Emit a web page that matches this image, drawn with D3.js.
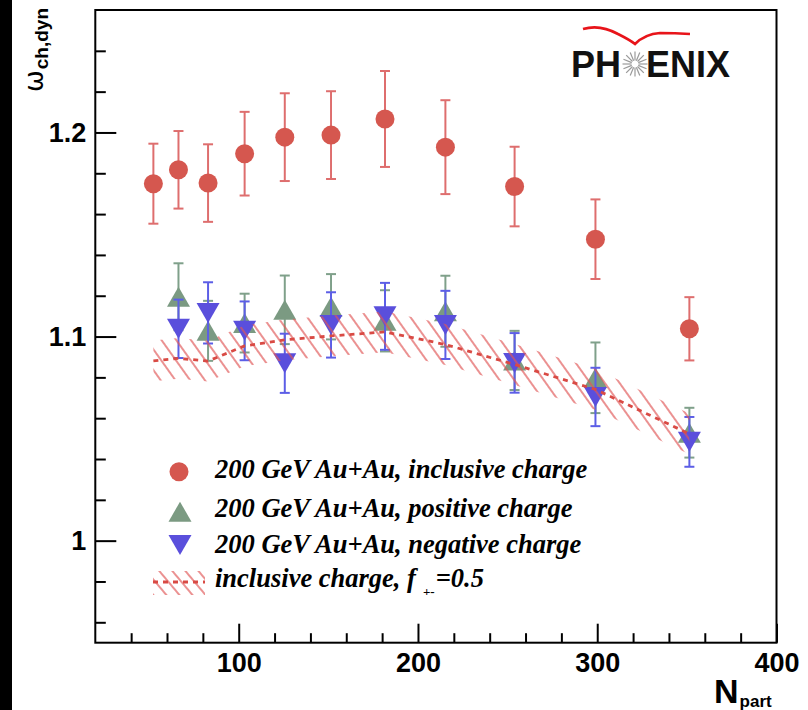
<!DOCTYPE html>
<html><head><meta charset="utf-8">
<script src="https://cdn.jsdelivr.net/npm/d3@7/dist/d3.min.js"></script>
<style>body{margin:0;background:#fff}svg{display:block}</style>
</head><body><svg id="c" width="808" height="710"></svg>
<script>
// ---------------- data ----------------
const npart      = [52.4, 66.4, 82.9, 103.3, 125.7, 151.5, 181.6, 215.3, 253.9, 299.0, 351.4];
const inclusive  = [1.1749, 1.1817, 1.1752, 1.1896, 1.1977, 1.1987, 1.2066, 1.1928, 1.1735, 1.1477, 1.1038];
const inclErr    = [0.0196, 0.0190, 0.0190, 0.0205, 0.0215, 0.0215, 0.0235, 0.0230, 0.0195, 0.0195, 0.0155];
const npartPM    = [66.4, 82.9, 103.3, 125.7, 151.5, 181.6, 215.3, 253.9, 299.0, 351.4];
const positive   = [1.1195, 1.1028, 1.1066, 1.1131, 1.1146, 1.1077, 1.1124, 1.0883, 1.0798, 1.0529];
const posErr     = [0.0164, 0.0147, 0.0144, 0.0168, 0.0160, 0.0150, 0.0174, 0.0145, 0.0173, 0.0122];
const negative   = [1.1038, 1.1116, 1.1028, 1.0869, 1.1057, 1.1099, 1.1057, 1.0871, 1.0704, 1.0484];
const negErr     = [0.0143, 0.0150, 0.0144, 0.0145, 0.0160, 0.0164, 0.0167, 0.0146, 0.0143, 0.0122];
const model      = [1.0881, 1.0893, 1.0880, 1.0954, 1.0984, 1.1003, 1.1023, 1.0961, 1.0863, 1.0741, 1.0523];
const modelErr   = [0.0100, 0.0100, 0.0100, 0.0100, 0.0100, 0.0100, 0.0100, 0.0100, 0.0100, 0.0100, 0.0100];
const xMajor = [100, 200, 300, 400];
const xMinor = [40, 60, 80, 120, 140, 160, 180, 220, 240, 260, 280, 320, 340, 360, 380];
const yMajor = [1.0, 1.1, 1.2];
const yMinor = [0.96, 0.98, 1.02, 1.04, 1.06, 1.08, 1.12, 1.14, 1.16, 1.18, 1.22, 1.24];
const legendLabels = ["200 GeV Au+Au, inclusive charge", "200 GeV Au+Au, positive charge", "200 GeV Au+Au, negative charge"];

// ---------------- setup ----------------
const svg = d3.select('#c');
svg.append('rect').attr('width', 808).attr('height', 710).attr('fill', '#fff');
svg.append('rect').attr('x', 0).attr('y', 0).attr('width', 12).attr('height', 710).attr('fill', '#000');

const x = d3.scaleLinear().domain([20, 400]).range([95.3, 776.5]);
const y = d3.scaleLinear().domain([0.95, 1.26]).range([642.7, 10]);

const RED = '#d5574f', REDBAR = '#de6e6e';
const GREEN = '#7b9a82', GREENBAR = '#7fa08a';
const BLUE = '#5a4fdc', BLUEBAR = '#5c5ee6';
const HATCH = '#e05656';

// hatch pattern
const defs = svg.append('defs');
const pat = defs.append('pattern').attr('id', 'hatch').attr('patternUnits', 'userSpaceOnUse')
  .attr('width', 12).attr('height', 12).attr('patternTransform', 'rotate(-35.5)');
pat.append('line').attr('x1', 6).attr('x2', 6).attr('y1', -1).attr('y2', 13)
  .attr('stroke', HATCH).attr('stroke-width', 1.3);
const pat2 = defs.append('pattern').attr('id', 'hatchL').attr('patternUnits', 'userSpaceOnUse')
  .attr('width', 10).attr('height', 10).attr('patternTransform', 'rotate(-40)');
pat2.append('line').attr('x1', 5).attr('x2', 5).attr('y1', -1).attr('y2', 11)
  .attr('stroke', HATCH).attr('stroke-width', 1.3);

// ---------------- axes ----------------
const font = '"Liberation Sans", Arial, Helvetica, sans-serif';
function styleAxis(g) {
  g.select('.domain').remove();
  g.selectAll('line').attr('stroke', '#000').attr('stroke-width', 2);
  g.selectAll('text').attr('font-family', font).attr('font-weight', 'bold').attr('font-size', 27).attr('fill', '#000');
}
const x0 = y.range()[0];
svg.append('g').attr('transform', `translate(0,${x0})`)
  .call(d3.axisBottom(x).tickValues(xMinor).tickSizeInner(-9.5).tickSizeOuter(0).tickFormat(''))
  .call(styleAxis);
svg.append('g').attr('transform', `translate(0,${x0})`)
  .call(d3.axisBottom(x).tickValues(xMajor).tickSizeInner(-19).tickSizeOuter(0).tickPadding(10).tickFormat(d3.format('d')))
  .call(styleAxis);
svg.append('g').attr('transform', `translate(${x.range()[0]},0)`)
  .call(d3.axisLeft(y).tickValues(yMinor).tickSizeInner(-10.5).tickSizeOuter(0).tickFormat(''))
  .call(styleAxis);
svg.append('g').attr('transform', `translate(${x.range()[0]},0)`)
  .call(d3.axisLeft(y).tickValues(yMajor).tickSizeInner(-21).tickSizeOuter(0).tickPadding(9)
    .tickFormat(d => d === 1 ? '1' : d.toFixed(1)))
  .call(styleAxis);

// frame
svg.append('rect').attr('x', x.range()[0]).attr('y', y.range()[1])
  .attr('width', x.range()[1] - x.range()[0]).attr('height', y.range()[0] - y.range()[1])
  .attr('fill', 'none').attr('stroke', '#000').attr('stroke-width', 2);

// ---------------- series ----------------
function errorBars(g, xs, vs, es, color) {
  const d = xs.map((n, i) => ({ n, v: vs[i], e: es[i] }));
  const eg = g.append('g').attr('stroke', color).attr('stroke-width', 2);
  eg.selectAll('.v').data(d).join('line')
    .attr('x1', p => x(p.n)).attr('x2', p => x(p.n))
    .attr('y1', p => y(p.v - p.e)).attr('y2', p => y(p.v + p.e));
  ['lo', 'hi'].forEach(k => {
    eg.selectAll('.' + k).data(d).join('line').attr('class', k)
      .attr('x1', p => x(p.n) - 5).attr('x2', p => x(p.n) + 5)
      .attr('y1', p => y(k === 'lo' ? p.v - p.e : p.v + p.e))
      .attr('y2', p => y(k === 'lo' ? p.v - p.e : p.v + p.e));
  });
  return d;
}
const upTri = 'M-11.5,10L11.5,10L0,-10Z';
const dnTri = 'M-11.5,-10L11.5,-10L0,10Z';

const gInc = svg.append('g');
const dInc = errorBars(gInc, npart, inclusive, inclErr, REDBAR);
gInc.selectAll('circle').data(dInc).join('circle')
  .attr('cx', p => x(p.n)).attr('cy', p => y(p.v)).attr('r', 9.5).attr('fill', RED);

const gPos = svg.append('g');
const dPos = errorBars(gPos, npartPM, positive, posErr, GREENBAR);
gPos.selectAll('path').data(dPos).join('path')
  .attr('d', upTri).attr('transform', p => `translate(${x(p.n)},${y(p.v)})`).attr('fill', GREEN);

const gNeg = svg.append('g');
const dNeg = errorBars(gNeg, npartPM, negative, negErr, BLUEBAR);
gNeg.selectAll('path').data(dNeg).join('path')
  .attr('d', dnTri).attr('transform', p => `translate(${x(p.n)},${y(p.v)})`).attr('fill', BLUE);

// model band
const dMod = npart.map((n, i) => ({ n, v: model[i], e: modelErr[i] }));
svg.append('path').datum(dMod)
  .attr('d', d3.area().x(p => x(p.n)).y0(p => y(p.v - p.e)).y1(p => y(p.v + p.e)))
  .attr('fill', 'url(#hatch)');
svg.append('path').datum(dMod)
  .attr('d', d3.line().x(p => x(p.n)).y(p => y(p.v)))
  .attr('fill', 'none').attr('stroke', '#d94a44').attr('stroke-width', 2.8).attr('stroke-dasharray', '5,5');

// ---------------- legend ----------------
const lfont = '"Liberation Serif", "Times New Roman", Times, serif';
const lg = svg.append('g');
const rowsY = [478.3, 516.7, 553.3, 586.7];
const markY = [471.7, 511.7, 545.0, 582.0];
lg.append('circle').attr('cx', 179).attr('cy', markY[0]).attr('r', 9.5).attr('fill', RED);
lg.append('path').attr('d', upTri).attr('transform', `translate(180,${markY[1]})`).attr('fill', GREEN);
lg.append('path').attr('d', dnTri).attr('transform', `translate(180,${markY[2]})`).attr('fill', BLUE);
lg.append('rect').attr('x', 153).attr('y', 571).attr('width', 52).attr('height', 24).attr('fill', 'url(#hatchL)');
lg.append('line').attr('x1', 153).attr('x2', 205).attr('y1', markY[3]).attr('y2', markY[3])
  .attr('stroke', '#d94a44').attr('stroke-width', 2.8).attr('stroke-dasharray', '5,5');
legendLabels.forEach((t, i) => {
  lg.append('text').attr('x', 215).attr('y', rowsY[i]).text(t)
    .attr('font-family', lfont).attr('font-weight', 'bold').attr('font-style', 'italic').attr('font-size', 26.5);
});
const t4 = lg.append('text').attr('x', 215).attr('y', rowsY[3])
  .attr('font-family', lfont).attr('font-weight', 'bold').attr('font-style', 'italic').attr('font-size', 26.5);
t4.append('tspan').text('inclusive charge, f');
t4.append('tspan').text('+-').attr('font-size', 13).attr('dx', 7).attr('dy', 9).attr('font-style', 'normal');
t4.append('tspan').text('=0.5').attr('dy', -9).attr('dx', 1);

// ---------------- axis titles ----------------
const yt = svg.append('text').attr('transform', 'translate(43,92) rotate(-90)')
  .attr('font-family', font).attr('font-weight', 'bold').attr('fill', '#000');
yt.append('tspan').text('ω').attr('font-size', 26).attr('font-family', '"DejaVu Sans", sans-serif').attr('font-weight', 'normal');
yt.append('tspan').text('ch,dyn').attr('font-size', 19).attr('dy', 5).attr('dx', 1);

const xt = svg.append('text').attr('x', 714).attr('y', 703)
  .attr('font-family', font).attr('font-weight', 'bold').attr('fill', '#000');
xt.append('tspan').text('N').attr('font-size', 34);
xt.append('tspan').text('part').attr('font-size', 17).attr('dy', 4).attr('dx', 1);

// ---------------- PHENIX logo ----------------
const logo = svg.append('g');
logo.append('path').attr('d', 'M583,29 Q600,24 618,34 Q630,40 635,44 Q645,34 660,33 Q675,33 690,34')
  .attr('fill', 'none').attr('stroke', '#e8141a').attr('stroke-width', 2.6);
logo.append('text').attr('x', 571).attr('y', 77).text('PH')
  .attr('font-family', font).attr('font-weight', 'bold').attr('font-size', 36).attr('fill', '#111');
logo.append('text').attr('x', 646).attr('y', 77).text('ENIX')
  .attr('font-family', font).attr('font-weight', 'bold').attr('font-size', 36).attr('fill', '#111');
const spokes = d3.range(16).map(i => i * Math.PI / 8);
logo.selectAll('.sp').data(spokes).join('line')
  .attr('x1', a => 635 + 3.5 * Math.cos(a)).attr('y1', a => 64 + 3.5 * Math.sin(a))
  .attr('x2', a => 635 + 12.5 * Math.cos(a)).attr('y2', a => 64 + 12.5 * Math.sin(a))
  .attr('stroke', '#9a9a9a').attr('stroke-width', 1.2);
</script></body></html>
